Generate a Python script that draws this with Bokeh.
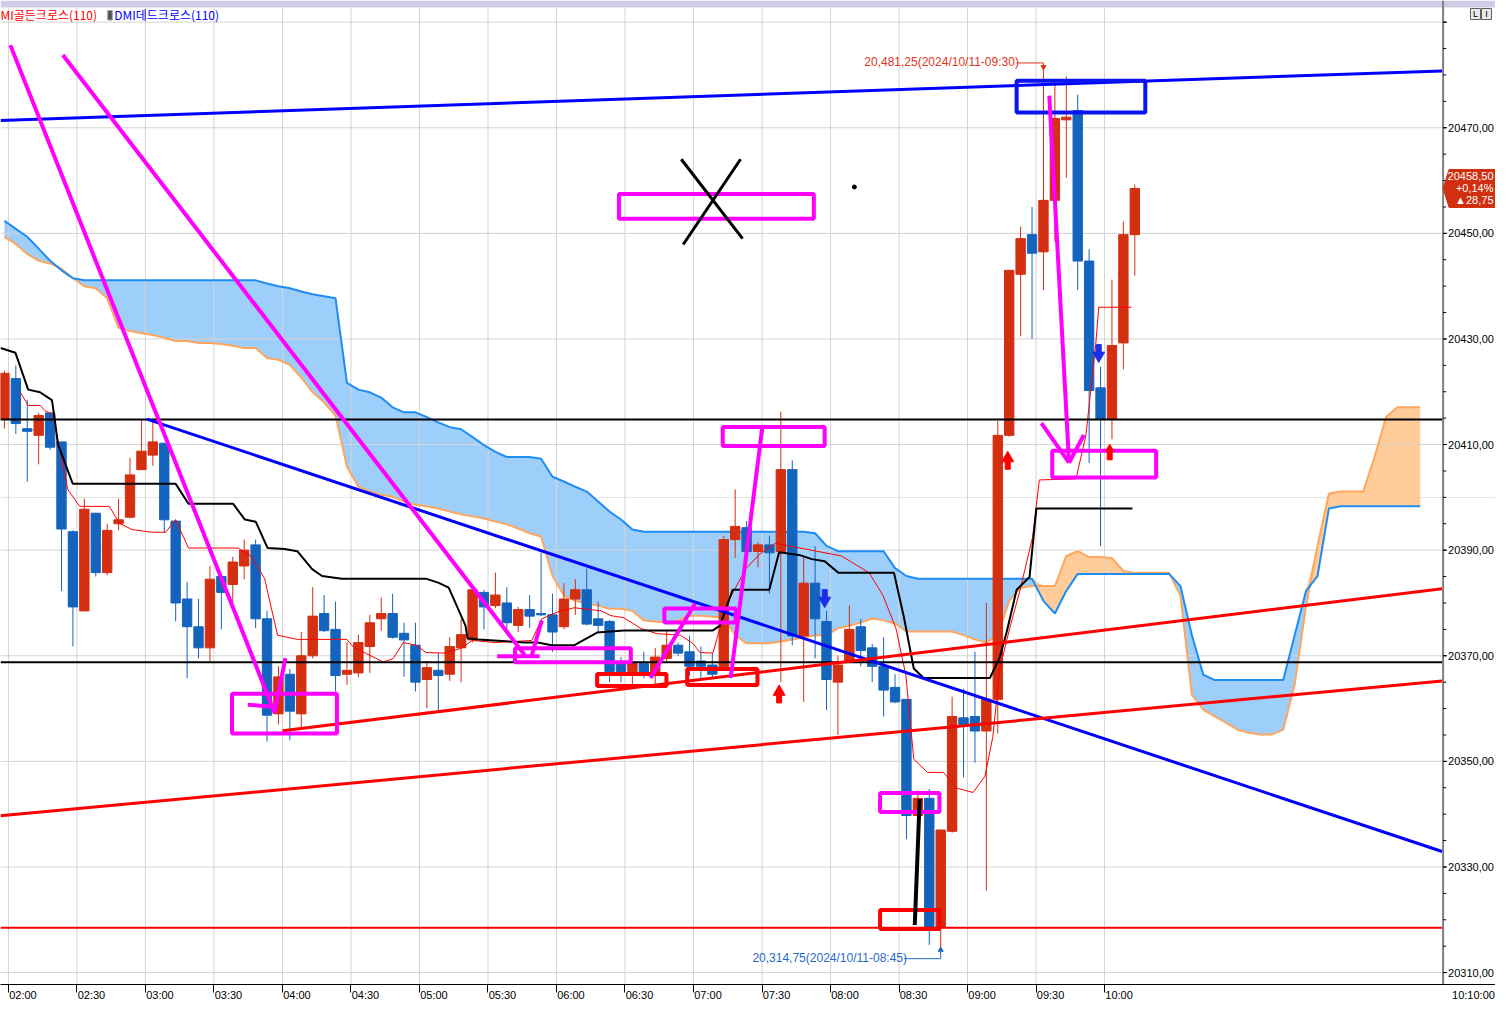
import numpy as np
from bokeh.plotting import figure
from bokeh.models import Range1d, FixedTicker, Label, CustomJSTickFormatter, LinearAxis
from bokeh.embed import file_html
from bokeh.resources import INLINE
from bokeh.core.properties import value

# ---------------- data ----------------
first_bar = "01:55"          # time of first candle (5-minute bars)
opens = [20414.75, 20422.5, 20413.0, 20411.75, 20416.0, 20410.5, 20393.5, 20378.5, 20397.0, 20385.75,
         20395.0, 20396.25, 20405.25, 20408.0, 20410.25, 20395.5, 20380.75, 20375.5, 20371.5, 20385.0,
         20383.5, 20387.0, 20391.0, 20377.0, 20359.0, 20366.5, 20359.0, 20370.0, 20378.0, 20375.0,
         20366.5, 20366.75, 20371.75, 20377.0, 20378.0, 20374.25, 20372.0, 20365.5, 20367.25, 20366.5,
         20371.5, 20373.0, 20382.0, 20379.5, 20380.0, 20375.75, 20378.75, 20378.0, 20377.75, 20375.5,
         20380.75, 20382.5, 20377.0, 20376.5, 20368.5, 20367.0, 20368.5, 20366.25, 20369.5, 20372.0,
         20370.75, 20369.0, 20368.25, 20367.5, 20392.0, 20394.25, 20389.75, 20391.0, 20389.75, 20405.25,
         20373.75, 20383.75, 20376.5, 20365.0, 20369.0, 20375.5, 20371.5, 20368.0, 20364.0, 20361.75,
         20339.75, 20343.0, 20318.5, 20336.75, 20358.25, 20358.5, 20355.75, 20361.75, 20411.75, 20442.25,
         20449.75, 20446.5, 20456.25, 20471.5, 20473.25, 20444.75, 20420.75, 20414.75, 20429.25, 20449.75]
highs = [20424.0, 20425.0, 20418.5, 20416.0, 20416.0, 20410.5, 20393.75, 20399.75, 20397.0, 20395.0,
         20399.75, 20407.5, 20414.75, 20414.5, 20410.25, 20395.75, 20384.0, 20380.75, 20387.0, 20385.0,
         20388.75, 20392.0, 20392.0, 20378.5, 20368.0, 20367.5, 20374.5, 20383.0, 20381.5, 20380.25,
         20372.5, 20374.0, 20377.75, 20381.0, 20381.75, 20376.25, 20376.25, 20369.0, 20370.5, 20373.5,
         20377.0, 20382.75, 20382.5, 20385.75, 20383.0, 20379.25, 20381.5, 20389.5, 20381.75, 20383.75,
         20384.5, 20386.5, 20380.25, 20376.75, 20369.75, 20369.0, 20370.75, 20371.5, 20374.75, 20372.5,
         20373.75, 20371.75, 20370.5, 20392.75, 20401.5, 20395.5, 20391.5, 20392.75, 20416.25, 20407.0,
         20388.75, 20390.75, 20378.5, 20370.0, 20379.5, 20377.0, 20372.25, 20373.5, 20366.5, 20361.75,
         20344.5, 20344.75, 20337.0, 20362.25, 20363.75, 20370.75, 20380.0, 20414.5, 20443.0, 20451.25,
         20455.0, 20481.25, 20478.75, 20479.75, 20476.25, 20447.0, 20424.75, 20441.25, 20452.25, 20459.25]
lows = [20413.0, 20412.0, 20403.0, 20406.25, 20409.0, 20382.25, 20371.75, 20378.5, 20385.0, 20385.25,
        20393.75, 20396.0, 20405.25, 20406.0, 20393.25, 20376.5, 20365.75, 20369.5, 20369.0, 20375.0,
        20379.5, 20384.5, 20375.25, 20353.75, 20357.0, 20354.0, 20356.5, 20369.5, 20374.5, 20363.25,
        20364.5, 20366.0, 20366.75, 20374.75, 20373.25, 20366.0, 20363.25, 20360.0, 20359.25, 20365.25,
        20365.0, 20372.5, 20375.0, 20379.0, 20374.5, 20374.5, 20375.25, 20377.5, 20370.75, 20375.0,
        20377.75, 20375.75, 20374.5, 20365.0, 20365.0, 20364.0, 20365.75, 20364.0, 20369.0, 20370.0,
        20366.25, 20365.5, 20365.75, 20367.5, 20388.5, 20389.5, 20386.75, 20381.75, 20365.0, 20372.0,
        20361.25, 20369.5, 20359.75, 20355.0, 20369.0, 20368.0, 20365.0, 20358.5, 20361.0, 20335.25,
        20339.5, 20315.25, 20314.75, 20336.5, 20347.0, 20349.75, 20325.5, 20355.25, 20411.5, 20430.5,
        20430.0, 20439.25, 20448.5, 20460.5, 20439.25, 20406.5, 20390.75, 20411.0, 20424.25, 20442.0]
closes = [20423.5, 20414.0, 20412.5, 20415.5, 20409.5, 20394.0, 20379.25, 20397.75, 20385.75, 20393.75,
          20395.75, 20404.25, 20408.75, 20410.5, 20395.75, 20380.0, 20375.5, 20371.5, 20384.5, 20382.0,
          20387.75, 20390.0, 20377.0, 20358.75, 20366.0, 20359.5, 20370.0, 20377.5, 20374.75, 20366.25,
          20367.25, 20372.5, 20376.25, 20378.0, 20373.5, 20373.0, 20365.0, 20367.75, 20366.25, 20371.75,
          20374.0, 20382.5, 20379.25, 20381.5, 20376.25, 20378.75, 20377.5, 20377.75, 20374.5, 20380.75,
          20382.5, 20376.0, 20375.75, 20367.0, 20367.0, 20368.75, 20366.5, 20369.75, 20372.0, 20370.5,
          20368.0, 20368.0, 20366.5, 20392.0, 20394.5, 20389.75, 20391.0, 20389.5, 20405.25, 20373.75,
          20383.75, 20377.0, 20365.5, 20368.25, 20375.0, 20371.0, 20368.0, 20363.5, 20361.25, 20339.75,
          20343.0, 20318.5, 20337.0, 20358.5, 20357.0, 20355.75, 20361.75, 20411.75, 20443.0, 20449.0,
          20446.25, 20456.25, 20471.75, 20472.0, 20444.75, 20420.25, 20414.75, 20428.75, 20449.75, 20458.5]

# Ichimoku cloud (leading spans), one value per bar starting at first_bar, 26 bars ahead
span_a = [20452.35, 20450.85, 20449.35, 20447.1, 20444.8, 20443.0, 20441.5,
          20441.1, 20441.1, 20441.1, 20441.1, 20441.1, 20441.1, 20441.1, 20441.1,
          20441.1, 20441.1, 20441.1, 20441.1, 20441.1, 20441.1, 20441.1, 20441.1,
          20440.5, 20440.0, 20439.6, 20439.0, 20438.45, 20438.1, 20437.7,
          20421.7, 20420.4, 20419.9, 20418.9, 20417.05, 20416.1, 20416.1, 20415.2, 20414.2, 20413.3,
          20412.9, 20411.4, 20409.9, 20408.6, 20407.65, 20407.65, 20407.65, 20407.3, 20403.9, 20403.0,
          20402.0, 20401.1, 20399.2, 20397.3, 20395.8, 20393.9,
          20393.5, 20393.5, 20393.5, 20393.5, 20393.5, 20393.5, 20393.5, 20393.5,
          20393.5, 20393.5, 20393.5, 20393.5, 20393.5, 20393.5, 20393.5,
          20393.2, 20390.8, 20389.8, 20389.8, 20389.8, 20389.8, 20389.8, 20386.6, 20385.1,
          20384.6, 20384.6, 20384.6, 20384.6, 20384.6, 20384.6, 20384.6, 20384.6, 20384.6, 20384.6, 20384.6,
          20380.4, 20378.0, 20382.3,
          20385.5, 20385.5, 20385.5, 20385.5, 20385.5, 20385.5, 20385.5, 20385.5, 20385.5,
          20383.2, 20373.9, 20366.4,
          20365.4, 20365.4, 20365.4, 20365.4, 20365.4, 20365.4, 20365.4,
          20373.9, 20382.3, 20385.1, 20397.9,
          20398.3, 20398.3, 20398.3, 20398.3, 20398.3, 20398.3, 20398.3, 20398.3]
span_b = [20449.35, 20448.0, 20446.1, 20444.8, 20444.3, 20443.3, 20441.5, 20440.0, 20439.6, 20437.7,
          20432.1, 20431.5, 20431.1, 20430.75, 20430.2, 20429.6, 20429.6, 20429.25, 20429.25, 20429.06,
          20428.7, 20428.3, 20428.3, 20426.4, 20426.06, 20425.1, 20422.7, 20419.9, 20418.0, 20415.5,
          20405.8, 20402.0, 20401.1, 20400.5, 20400.1, 20399.2, 20398.6, 20398.3, 20397.9, 20397.3,
          20396.8, 20396.4, 20396.0, 20395.4, 20394.9, 20394.1, 20393.2, 20392.6,
          20385.1, 20381.4, 20380.4, 20379.9, 20379.5, 20378.9, 20378.9, 20378.5, 20376.7, 20376.5,
          20376.3, 20376.7, 20377.6, 20377.6, 20377.4, 20377.2,
          20373.9, 20372.35, 20372.35, 20372.35, 20372.7, 20373.1, 20373.5, 20373.9, 20373.9, 20375.2,
          20375.7, 20376.3, 20377.05, 20376.7, 20376.1,
          20374.6, 20374.6, 20374.6, 20374.6, 20374.6, 20373.9, 20373.1, 20372.5, 20373.9, 20380.4,
          20382.9, 20383.2, 20383.2, 20383.2,
          20388.9, 20389.8, 20388.7, 20388.7, 20388.5, 20386.06, 20385.7, 20385.7, 20385.7, 20385.7,
          20381.4, 20362.6, 20359.8, 20358.5, 20357.3, 20356.0, 20355.4, 20355.07, 20355.07, 20356.0,
          20364.5, 20379.5, 20390.8, 20400.7, 20401.1, 20401.1, 20401.1, 20407.65, 20415.2, 20417.05,
          20417.05, 20417.05]

# base line (kijun) and conversion line (tenkan): vertices (bar position from 02:00, price)
kijun_t = [-0.69, 0.61, 1.73, 2.77, 3.81, 4.07, 4.33, 5.63, 14.64, 15.77, 19.67, 20.71, 21.66, 22.70, 24.18,
           25.30, 26.60, 27.47, 29.20, 36.57, 37.69, 38.56, 40.03, 40.21, 41.16, 45.23, 46.36, 47.57, 49.57,
           51.56, 53.90, 61.70, 62.31, 63.43, 66.64, 67.50, 69.24, 70.36, 71.49, 72.70, 77.56, 78.42, 79.29,
           80.16, 85.96, 86.83, 87.44, 88.30, 89.43, 90.03, 98.44]
kijun_v = [20428.3, 20427.4, 20420.4, 20419.9, 20418.4, 20414.6, 20410.1, 20402.6, 20402.6, 20398.8, 20398.8,
           20395.8, 20395.4, 20390.4, 20390.2, 20389.8, 20386.4, 20385.1, 20384.6, 20384.6, 20383.8, 20382.9,
           20375.7, 20373.3, 20373.1, 20372.5, 20372.5, 20372.0, 20372.0, 20374.4, 20374.8, 20374.8, 20375.7,
           20382.5, 20382.5, 20389.6, 20389.1, 20388.3, 20387.9, 20385.7, 20385.7, 20377.4, 20367.6, 20365.8,
           20365.8, 20369.7, 20374.6, 20382.5, 20384.9, 20397.9, 20397.9]
tenkan_t = [1.04, 1.73, 2.77, 3.21, 3.90, 5.20, 6.24, 8.84, 9.71, 10.83, 12.56, 13.78, 14.64, 15.77, 20.10,
            21.23, 22.44, 23.57, 25.30, 29.64, 30.24, 32.84, 33.71, 34.58, 35.70, 36.57, 38.30, 39.60, 40.64,
            42.63, 45.84, 46.71, 48.09, 49.57, 51.91, 52.77, 53.90, 55.37, 56.76, 58.84, 59.97, 60.57, 61.70,
            62.31, 63.17, 64.56, 65.77, 67.16, 72.96, 75.39, 76.60, 77.73, 78.60, 79.29, 80.50, 81.89, 83.10,
            84.49, 85.53, 86.22, 86.83, 87.69, 88.56, 89.69, 90.29, 93.50, 94.37, 95.23, 95.49, 98.35]
tenkan_v = [20419.9, 20417.4, 20417.4, 20416.4, 20415.7, 20401.5, 20398.3, 20398.3, 20395.1, 20393.9, 20393.4,
            20393.4, 20395.8, 20390.4, 20390.4, 20388.9, 20384.6, 20373.9, 20373.1, 20373.1, 20371.6, 20368.8,
            20369.5, 20372.5, 20372.0, 20370.6, 20370.5, 20371.4, 20372.9, 20372.5, 20372.9, 20377.0, 20378.3,
            20379.1, 20378.5, 20377.6, 20377.2, 20375.2, 20374.2, 20373.9, 20372.3, 20370.6, 20370.5, 20375.2,
            20380.8, 20386.4, 20389.2, 20391.3, 20388.9, 20385.7, 20381.4, 20375.2, 20366.3, 20350.4, 20347.9,
            20347.9, 20344.9, 20344.1, 20347.2, 20354.7, 20367.6, 20375.2, 20382.1, 20392.4, 20403.3, 20403.5,
            20411.8, 20429.0, 20436.0, 20436.0]

time_labels = ["02:00", "02:30", "03:00", "03:30", "04:00", "04:30", "05:00", "05:30", "06:00",
               "06:30", "07:00", "07:30", "08:00", "08:30", "09:00", "09:30", "10:00"]
price_ticks = [20310, 20330, 20350, 20370, 20390, 20410, 20430, 20450, 20470, 20490]
current_time = "10:10:00"
prev_close = 20429.75
hi_time, lo_time = "2024/10/11-09:30", "2024/10/11-08:45"

# horizontal levels
black_levels = [20414.75, 20368.75]
red_levels = [20318.5]
# trend lines (bar position, price)
blue_trends = [([-0.69, 125.56], [20471.37, 20480.76]), ([12.13, 125.56], [20414.82, 20332.92])]
red_trends = [([-0.69, 125.56], [20339.68, 20365.23]), ([24.0, 125.56], [20355.8, 20382.70])]

# hand-drawn markup (bar position, price)
mag_lines_t = [[0.17, 23.31], [20.97, 23.31], [24.26, 23.31], [4.77, 45.23], [42.81, 46.53], [46.71, 45.84],
               [66.03, 63.26], [60.14, 56.24], [91.16, 92.89], [90.47, 92.89], [94.19, 92.89]]
mag_lines_p = [[20485.65, 20359.22], [20360.72, 20360.35], [20369.55, 20359.22], [20483.77, 20370.11],
               [20369.92, 20369.92], [20376.69, 20370.11], [20413.32, 20365.79], [20379.88, 20365.79],
               [20476.07, 20406.56], [20414.07, 20406.56], [20411.82, 20406.56]]
mag_box_l = [19.58, 53.47, 62.56, 57.45, 44.37, 76.34, 91.42]
mag_box_r = [28.77, 70.54, 71.49, 63.69, 54.51, 81.54, 100.52]
mag_box_t = [20362.79, 20457.47, 20413.32, 20378.94, 20371.42, 20343.99, 20408.81]
mag_box_b = [20355.28, 20452.77, 20409.75, 20376.31, 20368.79, 20340.41, 20403.74]
red_box_l = [51.56, 59.45, 76.34]
red_box_r = [57.63, 65.60, 81.54]
red_box_t = [20366.54, 20367.48, 20321.83]
red_box_b = [20364.29, 20364.48, 20318.27]
blue_box = (88.30, 99.57, 20478.88, 20472.87)
cross_t = [[58.93, 64.30], [64.12, 59.10]]
cross_p = [[20464.04, 20449.01], [20464.04, 20447.89]]
dot = (74.09, 20458.78)
black_stroke = ([79.81, 79.38], [20342.87, 20319.01])

# signal arrows
buy_t = [87.52, 67.50, 96.45]
buy_p = [20407.4, 20363.16, 20409.19]
buy_size = [12, 12, 8]
sell_t = [71.49, 95.49]
sell_p = [20380.44, 20426.85]

# ---------------- layout constants ----------------
X0, X1 = -0.693, 130.24          # visible bar range
Y0, Y1 = 20307.74, 20494.10      # visible price range
FW, FH = 1495, 984
ppb = FW / (X1 - X0)             # pixels per bar
ppp = FH / (Y1 - Y0)             # pixels per price point
AXIS_X = 125.65                  # price-scale line position (bars)

def tpos(s):
    h, m = s.split(":")[:2]
    return (int(h) * 60 + int(m) - 120) / 5.0

UP, DOWN = "#D32F10", "#1464BE"
MAG = "#FF00FF"
FONT = "Liberation Sans"
GRID = "#D4D4D4"

p = figure(frame_width=FW, frame_height=FH,
           x_range=Range1d(X0, X1), y_range=Range1d(Y0, Y1),
           y_axis_location=None, output_backend="svg", toolbar_location=None,
           min_border_left=0, min_border_top=0, min_border_right=0, min_border_bottom=0,
           background_fill_color="white", border_fill_color="white", outline_line_color=None)

# ---- x axis: tick marks, and a label axis with labels placed just right of each tick
xt = [tpos(s) for s in time_labels]
ax0 = p.below[0]
ax0.ticker = FixedTicker(ticks=xt, minor_ticks=[])
ax0.formatter = CustomJSTickFormatter(code="return ''")
ax0.major_label_text_font_size = "0px"
ax0.major_label_standoff = 0
ax0.major_tick_out = 8
ax0.major_tick_in = 0
ax0.minor_tick_line_color = None
ax0.axis_line_color = "black"
ax0.major_tick_line_color = "black"

shift = 14.5 / ppb
lab_pos = [t + shift for t in xt] + [X0 + 1473 / ppb]
lab_txt = time_labels + [current_time]
ax1 = LinearAxis(ticker=FixedTicker(ticks=lab_pos, minor_ticks=[]),
                 formatter=CustomJSTickFormatter(args=dict(pos=lab_pos, labs=lab_txt), code="""
                     for (let i = 0; i < pos.length; i++) { if (Math.abs(pos[i] - tick) < 1e-6) return labs[i]; }
                     return '';"""),
                 major_tick_out=0, major_tick_in=0, major_tick_line_color=None,
                 minor_tick_line_color=None, axis_line_color=None, major_label_standoff=-4,
                 major_label_text_font=FONT, major_label_text_font_size="11px",
                 major_label_text_color="black")
p.add_layout(ax1, "below")

for g in p.xgrid:
    g.visible = False

# top header band
p.quad(left=[X0], right=[X1], top=[Y1], bottom=[Y1 - 7 / ppp], fill_color="#CFCDE6", line_color=None)

# cloud fills
a = np.array(span_a)
b = np.array(span_b)
cx = tpos(first_bar) + 0.65 + np.arange(len(a))
top = np.maximum(a, b)
p.varea(x=cx, y1=b, y2=top, fill_color="#9ECFFB", fill_alpha=1.0)
p.varea(x=cx, y1=a, y2=top, fill_color="#FFCC9A", fill_alpha=1.0)

# grid (drawn over the cloud, under everything else)
p.segment(x0=xt, x1=xt, y0=[Y0] * len(xt), y1=[Y1 - 7 / ppp] * len(xt), line_color=GRID, line_width=1)
p.segment(x0=[X0] * len(price_ticks), x1=[AXIS_X] * len(price_ticks), y0=price_ticks, y1=price_ticks,
          line_color=GRID, line_width=1)

# cloud edges
p.line(cx, b, line_color="#FFA65C", line_width=2)
p.line(cx, a, line_color="#1E8CF0", line_width=2)

# candles
o = np.array(opens); h = np.array(highs); l = np.array(lows); c = np.array(closes)
x = tpos(first_bar) + 0.65 + np.arange(len(o))
col = np.where(c >= o, UP, DOWN)
p.segment(x0=x, y0=l, x1=x, y1=h, line_color=col, line_width=1)
p.vbar(x=x, width=0.82, top=np.maximum(o, c), bottom=np.minimum(o, c),
       fill_color=col, line_color=col, line_width=1)

# tenkan / kijun
p.line(tenkan_t, tenkan_v, line_color="#FF0000", line_width=1)
p.line(kijun_t, kijun_v, line_color="black", line_width=2)

# levels
for lv in black_levels:
    p.line([X0, AXIS_X], [lv, lv], line_color="black", line_width=2)
for lv in red_levels:
    p.line([X0, AXIS_X], [lv, lv], line_color="#FF0000", line_width=2)

# trend lines
for tx, ty in blue_trends:
    p.line(tx, ty, line_color="#0000FF", line_width=3)
for tx, ty in red_trends:
    p.line(tx, ty, line_color="#FF0000", line_width=3)

# markup
p.quad(left=mag_box_l, right=mag_box_r, top=mag_box_t, bottom=mag_box_b,
       fill_color=None, line_color=MAG, line_width=4)
p.quad(left=red_box_l, right=red_box_r, top=red_box_t, bottom=red_box_b,
       fill_color=None, line_color="#FF0000", line_width=4)
p.quad(left=[blue_box[0]], right=[blue_box[1]], top=[blue_box[2]], bottom=[blue_box[3]],
       fill_color=None, line_color="#0A14F0", line_width=4)
p.multi_line(mag_lines_t, mag_lines_p, line_color=MAG, line_width=4)
p.multi_line(cross_t, cross_p, line_color="black", line_width=3)
p.scatter([dot[0]], [dot[1]], size=4, color="black")
p.line(black_stroke[0], black_stroke[1], line_color="black", line_width=4)

# signals
p.rect(buy_t, [v - 7 / ppp for v in buy_p], width=5, height=8, width_units="screen",
       height_units="screen", color="#FF0000")
p.scatter(buy_t, buy_p, marker="triangle", size=buy_size, color="#FF0000")
p.rect(sell_t, [v + 7 / ppp for v in sell_p], width=5, height=8, width_units="screen",
       height_units="screen", color="#1A2EE8")
p.scatter(sell_t, sell_p, marker="inverted_triangle", size=12, color="#1A2EE8")

# high / low annotations
hi_i = int(np.argmax(h)); lo_i = int(np.argmin(l))
fmt = lambda v: f"{v:,.2f}".replace(".", ",")
hi_x, lo_x = x[hi_i], x[lo_i]
p.add_layout(Label(x=74.96, y=20482.45, text=f"{fmt(h[hi_i])}({hi_time})", text_color="#E0361C",
                   text_font=FONT, text_font_size="12px", text_baseline="middle"))
p.line([88.30, hi_x, hi_x], [20482.27, 20482.27, 20481.6], line_color="#E0361C", line_width=1)
p.scatter([hi_x], [20481.5], marker="inverted_triangle", size=5, color="#E0361C")
p.add_layout(Label(x=65.16, y=20312.81, text=f"{fmt(l[lo_i])}({lo_time})", text_color="#1F6AC8",
                   text_font=FONT, text_font_size="12px", text_baseline="middle"))
p.line([78.42, lo_x, lo_x], [20312.63, 20312.63, 20314.0], line_color="#1F6AC8", line_width=1)
p.scatter([lo_x], [20314.3], marker="triangle", size=5, color="#1F6AC8")

# legend text
p.add_layout(Label(x=X0, y=20491.47, text="MI골든크로스(110)", text_color="#FF0000",
                   text_font="Noto Sans CJK KR", text_font_size="12px", text_baseline="middle"))
p.quad(left=[8.7], right=[9.1], top=[20492.2], bottom=[20490.4], fill_color="#505050", line_color="#A0A0A0")
p.add_layout(Label(x=9.27, y=20491.47, text="DMI데드크로스(110)", text_color="#0000FF",
                   text_font="Noto Sans CJK KR", text_font_size="12px", text_baseline="middle"))

# ---- price scale (right)
p.line([AXIS_X, AXIS_X], [Y0, Y1], line_color="#808080", line_width=2)
minor = list(range(20310, 20495, 5))
p.segment(x0=[AXIS_X] * len(minor), x1=[AXIS_X + 3 / ppb] * len(minor), y0=minor, y1=minor,
          line_color="black", line_width=1)
p.segment(x0=[AXIS_X] * len(price_ticks), x1=[AXIS_X + 4 / ppb] * len(price_ticks),
          y0=price_ticks, y1=price_ticks, line_color="black", line_width=1)
shown = [v for v in price_ticks if v < 20490]
p.text(x=[AXIS_X + 5 / ppb] * len(shown), y=shown, text=[f"{v:.2f}".replace(".", ",") for v in shown],
       text_font=value(FONT), text_font_size="11px", text_baseline="middle", text_align="left",
       text_color="black")

# current price tag
last = c[-1]
chg = last - prev_close
tag_top, tag_bot = last + 19 / ppp, last - 19 / ppp
p.patch([AXIS_X, AXIS_X + 6 / ppb, X1, X1, AXIS_X + 6 / ppb], [last, tag_top, tag_top, tag_bot, tag_bot],
        fill_color="#D0300F", line_color="#D0300F")
tag_lines = [f"{last:.2f}".replace(".", ","), f"+{chg / prev_close * 100:.2f}%".replace(".", ","),
             "▲" + f"{chg:.2f}".replace(".", ",")]
p.text(x=[X1 - 2 / ppb] * 3, y=[last + 12.5 / ppp, last, last - 12 / ppp], text=tag_lines,
       text_font=value(FONT), text_font_size="11px", text_baseline="middle", text_align="right",
       text_color="white")

# corner buttons
p.quad(left=[X0 + 1470 / ppb, X0 + 1481 / ppb], right=[X0 + 1480 / ppb, X0 + 1491 / ppb],
       top=[Y1 - 8 / ppp] * 2, bottom=[Y1 - 19 / ppp] * 2, fill_color="#E8E8E8", line_color="#606060")
p.text(x=[X0 + 1475 / ppb, X0 + 1486 / ppb], y=[Y1 - 13.5 / ppp] * 2, text=["L", "I"],
       text_font=value(FONT), text_font_size="9px", text_baseline="middle", text_align="center",
       text_color="black")

open("out.html", "w").write(file_html(p, INLINE))
